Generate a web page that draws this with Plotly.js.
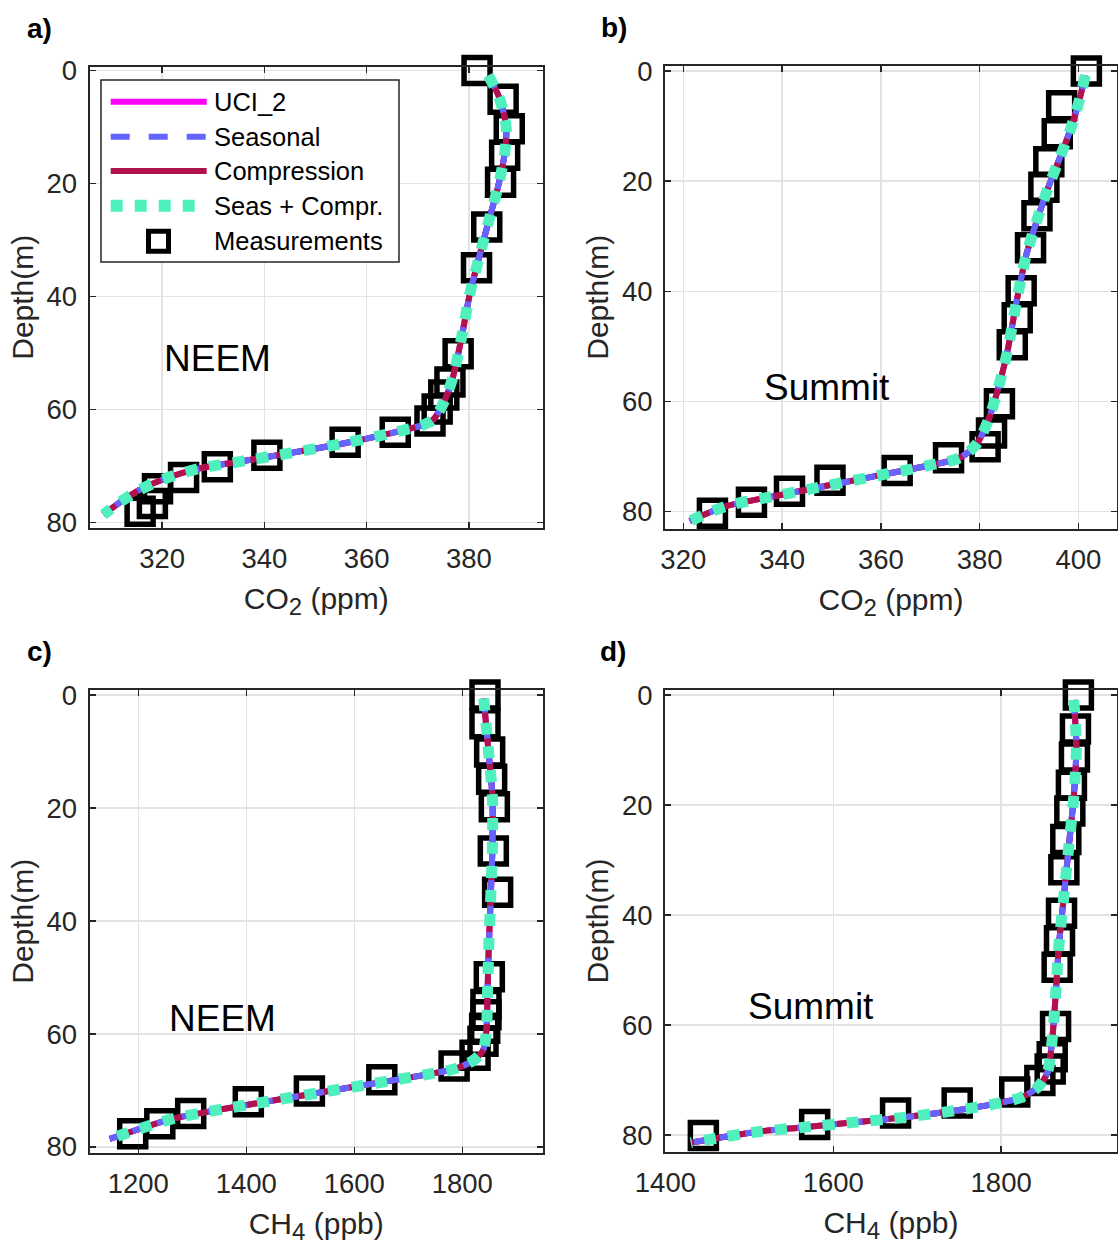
<!DOCTYPE html>
<html>
<head>
<meta charset="utf-8">
<script src="https://cdn.plot.ly/plotly-3.0.1.min.js"></script>
<style>html,body{margin:0;padding:0;background:#fff;}#chart{width:1118px;height:1245px;}</style>
</head>
<body>
<div id="chart"></div>
<script>
// ---------- Data ----------
// Panel a: NEEM CO2
const measDepthA = [0, 5.1, 10.3, 15.0, 19.8, 27.7, 34.9, 50.1, 55.1, 57.4, 59.9, 62.0, 64.0, 65.8, 68.1, 70.1, 72.0, 74.0, 76.6, 78.0];
const measCO2A   = [381.6, 386.7, 387.9, 387.0, 386.2, 383.5, 381.5, 377.9, 376.3, 375.1, 373.8, 372.4, 365.6, 355.8, 340.5, 330.8, 324.2, 319.1, 318.1, 315.7];
const modelDepthA = [0.9, 4.7, 10.0, 14.7, 20.6, 25.9, 32.4, 39.5, 47.1, 54.2, 58.9, 61.8, 62.7, 64.2, 66.0, 67.7, 69.2, 70.4, 72.1, 74.2, 76.0, 78.6];
const modelCO2A   = [383.8, 385.9, 387.3, 387.0, 385.7, 384.1, 382.2, 380.2, 378.6, 376.9, 375.0, 373.0, 371.1, 364.6, 355.4, 345.0, 335.2, 327.4, 320.9, 315.6, 312.4, 308.5];

// Panel b: Summit CO2
const measDepthB = [0, 6.3, 11.4, 16.5, 21.1, 26.3, 32.1, 39.9, 44.8, 49.7, 60.4, 65.7, 68.2, 70.2, 72.5, 74.3, 76.3, 78.3, 80.3];
const measCO2B   = [401.6, 396.6, 395.7, 394.0, 393.0, 391.6, 390.3, 388.4, 387.6, 386.6, 384.0, 382.4, 381.1, 373.7, 363.3, 349.7, 341.5, 333.8, 325.9];
const modelDepthB = [0.8, 5.9, 10.8, 15.6, 21.1, 27.1, 33.2, 41.7, 51.4, 58.7, 63.5, 67.7, 70.2, 71.7, 73.5, 75.3, 77.1, 79.0, 81.7];
const modelCO2B   = [401.4, 400.0, 398.3, 396.3, 393.9, 391.6, 389.5, 387.5, 385.5, 383.4, 381.7, 379.4, 376.0, 369.2, 359.1, 349.0, 338.9, 328.7, 321.3];

// Panel c: NEEM CH4
const measDepthC = [0, 5.1, 10.1, 14.9, 19.8, 27.6, 34.9, 49.9, 54.8, 56.6, 59.0, 61.3, 63.8, 65.7, 68.1, 70.1, 72.0, 74.1, 75.9, 77.7];
const measCH4C   = [1842, 1842, 1850.6, 1854.3, 1859.3, 1857.4, 1865.4, 1850, 1843.8, 1843.8, 1841.4, 1838.3, 1823.6, 1784.8, 1650.9, 1516.8, 1403.7, 1297, 1239.8, 1189.6];
const modelDepthC = [0.6, 9.2, 18.0, 26.9, 35.7, 44.6, 53.4, 59.4, 62.9, 64.7, 66.1, 67.3, 68.8, 70.3, 71.8, 73.3, 75.0, 76.8, 78.6];
const modelCH4C   = [1839.7, 1847.7, 1855.7, 1855.7, 1852.6, 1849, 1846.5, 1844.6, 1838.4, 1819.9, 1789, 1727.4, 1634.7, 1542.2, 1449.6, 1357, 1264.4, 1202.6, 1147];

// Panel d: Summit CH4
const measDepthD = [0, 6.2, 11.3, 16.4, 21.1, 26.3, 31.8, 39.7, 44.7, 49.5, 60.3, 65.8, 68.0, 70.1, 72.2, 74.2, 76.0, 78.1, 80.1];
const measCH4D   = [1892, 1888.5, 1887.3, 1883.7, 1881.8, 1877, 1874.7, 1871.9, 1869.5, 1866.7, 1864.8, 1860.8, 1858.4, 1846.1, 1816.2, 1747.6, 1674.2, 1577.8, 1445.2];
const modelDepthD = [0.9, 9.4, 18.5, 27.5, 36.6, 45.7, 54.8, 62.6, 68.7, 71.4, 73.2, 74.4, 75.6, 76.8, 77.7, 78.6, 79.5, 81.4];
const modelCH4D   = [1886.5, 1889.6, 1886.5, 1880.6, 1874.7, 1868.7, 1864.8, 1860.8, 1854.9, 1843, 1823.1, 1791.3, 1743.7, 1684.2, 1624.7, 1565.2, 1505.6, 1430.2];

const seriesNames = ['UCI_2', 'Seasonal', 'Compression', 'Seas + Compr.', 'Measurements'];
const panelLabels = ['a)', 'b)', 'c)', 'd)'];
const siteLabels = ['NEEM', 'Summit', 'NEEM', 'Summit'];
const xTitles = [
  'CO<sub><span style="font-size:24px">2</span></sub> (ppm)',
  'CO<sub><span style="font-size:24px">2</span></sub> (ppm)',
  'CH<sub><span style="font-size:24px">4</span></sub> (ppb)',
  'CH<sub><span style="font-size:24px">4</span></sub> (ppb)'
];
const yTitle = 'Depth(m)';

// ---------- Styles ----------
const W = 1118, H = 1245;
const px = v => v / W;
const py = v => 1 - v / H;
const FONT = 'Liberation Sans, Arial, Helvetica, sans-serif';
const TXT = '#262626';
const C_UCI = '#FF00FF', C_SEAS = '#6464FF', C_COMP = '#B1124C', C_SC = '#4FF0BE';

const panels = [
  {mx: measCO2A, md: measDepthA, vx: modelCO2A, vd: modelDepthA, xa: 'x', ya: 'y'},
  {mx: measCO2B, md: measDepthB, vx: modelCO2B, vd: modelDepthB, xa: 'x2', ya: 'y2'},
  {mx: measCH4C, md: measDepthC, vx: modelCH4C, vd: modelDepthC, xa: 'x3', ya: 'y3'},
  {mx: measCH4D, md: measDepthD, vx: modelCH4D, vd: modelDepthD, xa: 'x4', ya: 'y4'}
];

const traces = [];
panels.forEach(p => {
  traces.push({type: 'scatter', mode: 'markers', name: seriesNames[4], x: p.mx, y: p.md, xaxis: p.xa, yaxis: p.ya,
    marker: {symbol: 'square', size: 26, color: 'rgba(0,0,0,0)', line: {color: '#000', width: 5.5}},
    cliponaxis: false, showlegend: false, hoverinfo: 'skip'});
  traces.push({type: 'scatter', mode: 'lines', name: seriesNames[0], x: p.vx, y: p.vd, xaxis: p.xa, yaxis: p.ya,
    line: {color: C_UCI, width: 6, shape: 'spline', smoothing: 0.8}, showlegend: false});
  traces.push({type: 'scatter', mode: 'lines', name: seriesNames[2], x: p.vx, y: p.vd, xaxis: p.xa, yaxis: p.ya,
    line: {color: C_COMP, width: 6, shape: 'spline', smoothing: 0.8}, showlegend: false});
  traces.push({type: 'scatter', mode: 'lines', name: seriesNames[1], x: p.vx, y: p.vd, xaxis: p.xa, yaxis: p.ya,
    line: {color: C_SEAS, width: 6, dash: '14px,12px', shape: 'spline', smoothing: 0.8}, showlegend: false});
  traces.push({type: 'scatter', mode: 'lines', name: seriesNames[3], x: p.vx, y: p.vd, xaxis: p.xa, yaxis: p.ya,
    line: {color: C_SC, width: 11, dash: '12px,12px', shape: 'spline', smoothing: 0.8}, showlegend: false});
});

function axisBase(extra) {
  return Object.assign({
    showline: true, linecolor: TXT, linewidth: 2, mirror: 'allticks',
    ticks: 'inside', ticklen: 6, tickwidth: 1.5, tickcolor: TXT,
    showgrid: true, gridcolor: '#E3E3E3', gridwidth: 1.5, zeroline: false,
    tickfont: {family: FONT, size: 27.5, color: TXT}, fixedrange: true,
    ticklabelstandoff: 5
  }, extra);
}
function xAx(domain, range, dtick, title, anchor) {
  return axisBase({domain: domain, range: range, dtick: dtick, tick0: 0, anchor: anchor,
    title: {text: title, font: {family: FONT, size: 30, color: TXT}, standoff: 15}});
}
function yAx(domain, range, anchor) {
  return axisBase({domain: domain, range: range, dtick: 20, tick0: 0, anchor: anchor,
    title: {text: yTitle, font: {family: FONT, size: 30, color: TXT}, standoff: 4}});
}

const layout = {
  width: W, height: H,
  margin: {l: 0, r: 0, t: 0, b: 0},
  paper_bgcolor: '#fff', plot_bgcolor: '#fff',
  showlegend: false,
  font: {family: FONT, color: TXT},
  xaxis:  xAx([px(89.5), px(543)], [305.8, 394.5], 20, xTitles[0], 'y'),
  yaxis:  yAx([py(528), py(66.5)], [80.95, -0.7], 'x'),
  xaxis2: xAx([px(665), px(1117)], [316.3, 407.8], 20, xTitles[1], 'y2'),
  yaxis2: yAx([py(528.5), py(66)], [83.05, -0.9], 'x2'),
  xaxis3: xAx([px(89.5), px(543)], [1109.6, 1949.4], 200, xTitles[2], 'y3'),
  yaxis3: yAx([py(1152.5), py(690)], [81.0, -0.89], 'x3'),
  xaxis4: xAx([px(665), px(1117)], [1399.5, 1938], 200, xTitles[3], 'y4'),
  yaxis4: yAx([py(1152), py(690)], [83.1, -0.9], 'x4'),
  annotations: [],
  shapes: []
};

// panel letters
const letterPos = [[25, 29], [599, 27], [25, 651], [598, 651]];
panelLabels.forEach((t, i) => {
  layout.annotations.push({text: '<b>' + t + '</b>', xref: 'paper', yref: 'paper',
    x: px(letterPos[i][0]), y: py(letterPos[i][1]), xanchor: 'left', yanchor: 'middle',
    showarrow: false, font: {family: FONT, size: 28, color: '#000'}});
});
// site labels (data coordinates)
const sitePos = [[330.8, 50.9, 'x', 'y'], [349.1, 57.5, 'x2', 'y2'], [1356.8, 57.2, 'x3', 'y3'], [1573, 56.7, 'x4', 'y4']];
siteLabels.forEach((t, i) => {
  layout.annotations.push({text: t, xref: sitePos[i][2], yref: sitePos[i][3], x: sitePos[i][0], y: sitePos[i][1],
    xanchor: 'center', yanchor: 'middle', showarrow: false, font: {family: FONT, size: 37, color: '#000'}});
});

// custom legend inside panel a
layout.shapes.push({type: 'rect', xref: 'paper', yref: 'paper', x0: px(101), x1: px(399), y0: py(262), y1: py(80),
  line: {color: TXT, width: 1.5}, fillcolor: '#fff', layer: 'above'});
const legRows = [101.7, 136.7, 171, 205.7, 241.3];
const legStyles = [
  {color: C_UCI, width: 6, dash: 'solid', x1: 206.7},
  {color: C_SEAS, width: 6, dash: '19px,19px', x1: 206.7},
  {color: C_COMP, width: 6, dash: 'solid', x1: 206.7},
  {color: C_SC, width: 12, dash: '12px,12px', x1: 195}
];
legStyles.forEach((s, i) => {
  layout.shapes.push({type: 'line', xref: 'paper', yref: 'paper', x0: px(110.7), x1: px(s.x1), y0: py(legRows[i]), y1: py(legRows[i]),
    line: {color: s.color, width: s.width, dash: s.dash}, layer: 'above'});
});
layout.shapes.push({type: 'rect', xref: 'paper', yref: 'paper', x0: px(148.5), x1: px(168.5), y0: py(251.3), y1: py(231.3),
  line: {color: '#000', width: 5}, fillcolor: 'rgba(0,0,0,0)', layer: 'above'});
seriesNames.forEach((t, i) => {
  layout.annotations.push({text: t, xref: 'paper', yref: 'paper', x: px(212), y: py(legRows[i]),
    xanchor: 'left', yanchor: 'middle', showarrow: false, font: {family: FONT, size: 25.5, color: '#000'}});
});

Plotly.newPlot('chart', traces, layout, {staticPlot: true, displayModeBar: false});
</script>
</body>
</html>
